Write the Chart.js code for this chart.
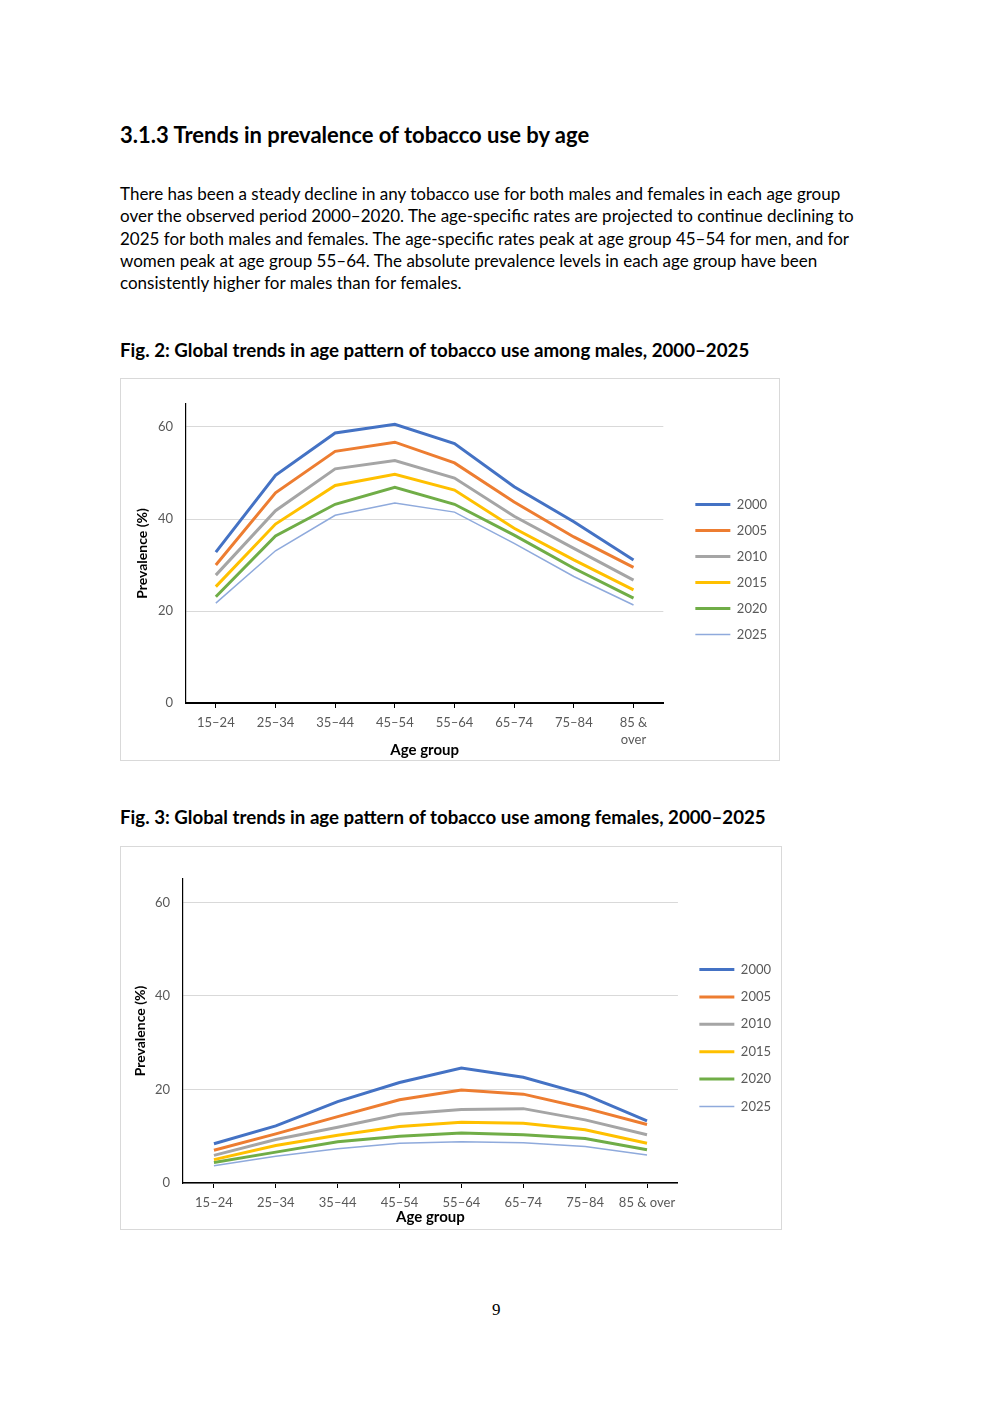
<!DOCTYPE html>
<html>
<head>
<meta charset="utf-8">
<script src="https://cdn.jsdelivr.net/npm/chart.js@4.4.1/dist/chart.umd.min.js"></script>
<style>
    body { margin: 0; background: #fff; }
    .page { position: relative; width: 992px; height: 1403px; background: #fff; font-family: Lato, sans-serif; color: #000; }
    .heading { position: absolute; left: 120px; top: 122px; font-size: 22px; line-height: 26px; font-weight: bold; white-space: nowrap; }
    .para { position: absolute; left: 120px; top: 183px; font-size: 17px; line-height: 22.3px; }
    .para div { white-space: nowrap; }
    .caption { position: absolute; left: 120px; font-size: 18.7px; line-height: 22px; font-weight: bold; white-space: nowrap; }
    .box { position: absolute; border: 1px solid #d9d9d9; background: #fff; }
    .pagenum { position: absolute; left: 492px; top: 1300px; font-family: "Liberation Serif", serif; font-size: 17px; }
</style>
</head>
<body>
<div class="page">
    <div class="heading">3.1.3 Trends in prevalence of tobacco use by age</div>
    <div class="para">
        <div>There has been a steady decline in any tobacco use for both males and females in each age group</div>
        <div>over the observed period 2000–2020. The age-specific rates are projected to continue declining to</div>
        <div>2025 for both males and females. The age-specific rates peak at age group 45–54 for men, and for</div>
        <div>women peak at age group 55–64. The absolute prevalence levels in each age group have been</div>
        <div>consistently higher for males than for females.</div>
    </div>

    <div class="caption" style="top: 339px">Fig. 2: Global trends in age pattern of tobacco use among males, 2000–2025</div>
    <div class="box" style="left: 120px; top: 378px; width: 658px; height: 381px">
        <canvas id="chart-males"></canvas>
    </div>

    <div class="caption" style="top: 806px">Fig. 3: Global trends in age pattern of tobacco use among females, 2000–2025</div>
    <div class="box" style="left: 120px; top: 846px; width: 660px; height: 382px">
        <canvas id="chart-females"></canvas>
    </div>

    <div class="pagenum">9</div>
</div>

<script>
const ageGroups = ["15–24", "25–34", "35–44", "45–54", "55–64", "65–74", "75–84", "85 & over"];
const years = ["2000", "2005", "2010", "2015", "2020", "2025"];
const yTicks = [0, 20, 40, 60];

// males, prevalence (%)
const male2000 = [32.8, 49.5, 58.7, 60.6, 56.4, 47.0, 39.4, 31.1];
const male2005 = [30.0, 45.7, 54.7, 56.7, 52.2, 43.7, 36.1, 29.5];
const male2010 = [27.8, 41.8, 50.9, 52.7, 48.9, 40.6, 33.6, 26.7];
const male2015 = [25.3, 38.9, 47.3, 49.7, 46.3, 38.0, 31.1, 24.6];
const male2020 = [23.1, 36.3, 43.2, 46.9, 43.2, 36.5, 29.3, 22.8];
const male2025 = [21.7, 33.1, 40.8, 43.5, 41.5, 34.7, 27.5, 21.3];

// females, prevalence (%)
const female2000 = [8.4, 12.2, 17.4, 21.5, 24.6, 22.6, 18.9, 13.3];
const female2005 = [7.0, 10.5, 14.2, 17.8, 19.9, 19.0, 16.0, 12.5];
const female2010 = [5.9, 9.3, 11.9, 14.7, 15.7, 15.9, 13.5, 10.3];
const female2015 = [5.0, 8.0, 10.2, 12.1, 13.0, 12.8, 11.4, 8.5];
const female2020 = [4.4, 6.6, 8.8, 10.0, 10.7, 10.3, 9.5, 7.1];
const female2025 = [3.7, 5.7, 7.3, 8.5, 8.8, 8.6, 7.8, 6.0];

const colors = ["#4472c4", "#ed7d31", "#a5a5a5", "#ffc000", "#70ad47", "#8faadc"];
const widths = [3, 3, 3, 3, 3, 1.5];

function makeDatasets(series) {
    return series.map((data, i) => ({
        label: years[i],
        data: data,
        borderColor: colors[i],
        backgroundColor: colors[i],
        borderWidth: widths[i],
        pointRadius: 0,
        pointHoverRadius: 0,
        tension: 0,
        fill: false,
    }));
}

function renderChart(id, series, opt) {
    new Chart(document.getElementById(id), {
        type: "line",
        data: { labels: ageGroups, datasets: makeDatasets(series) },
        options: {
            responsive: true,
            maintainAspectRatio: false,
            animation: false,
            layout: { padding: { left: opt.padLeft, right: opt.padRight, top: 0, bottom: 0 } },
            plugins: {
                legend: {
                    position: "right",
                    labels: {
                        usePointStyle: true,
                        pointStyle: "line",
                        pointStyleWidth: 35,
                        padding: opt.legendGap,
                        color: "#595959",
                        font: { family: "Lato", size: 13 },
                    },
                },
                tooltip: { enabled: false },
            },
            scales: {
                x: {
                    offset: true,
                    grid: { drawOnChartArea: false, drawTicks: true, tickLength: 5, color: "#000" },
                    border: { display: true, color: "#000", width: opt.xBorder },
                    ticks: {
                        color: "#595959",
                        padding: 6,
                        autoSkip: false,
                        maxRotation: 0,
                        font: { family: "Lato", size: 13, lineHeight: 1.3 },
                        callback: function (value) {
                            const label = this.getLabelForValue(value);
                            return opt.wrapLast && label === "85 & over" ? ["85 &", "over"] : label;
                        },
                    },
                    title: {
                        display: true,
                        text: "Age group",
                        color: "#000",
                        font: { family: "Lato", size: 15, weight: "bold" },
                        padding: { top: 0, bottom: opt.xTitlePad },
                    },
                    afterFit: (scale) => { scale.height = opt.xHeight; },
                },
                y: {
                    min: 0,
                    max: 65,
                    afterBuildTicks: (axis) => { axis.ticks = yTicks.map((v) => ({ value: v })); },
                    grid: { color: "#d9d9d9", drawTicks: false },
                    border: { display: true, color: "#000", width: 1.2 },
                    ticks: { color: "#595959", padding: 13, font: { family: "Lato", size: 13 } },
                    title: {
                        display: true,
                        text: "Prevalence (%)",
                        color: "#000",
                        font: { family: "Lato", size: 14, weight: "bold" },
                        padding: { top: 3, bottom: 4 },
                    },
                    afterFit: (scale) => { scale.width = opt.yWidth; },
                },
                topSpace: {
                    type: "linear",
                    position: "top",
                    grid: { display: false },
                    ticks: { display: false },
                    border: { display: false },
                    afterFit: (scale) => { scale.height = opt.topSpace; },
                },
                rightSpace: {
                    type: "linear",
                    position: "right",
                    grid: { display: false },
                    ticks: { display: false },
                    border: { display: false },
                    afterFit: (scale) => { scale.width = opt.rightSpace; },
                },
            },
        },
    });
}

renderChart("chart-males",
    [male2000, male2005, male2010, male2015, male2020, male2025],
    { padLeft: 10, padRight: 2, yWidth: 55, xHeight: 57, topSpace: 25, rightSpace: 19,
      legendGap: 13, xBorder: 2, xTitlePad: 1, wrapLast: true });

renderChart("chart-females",
    [female2000, female2005, female2010, female2015, female2020, female2025],
    { padLeft: 8, padRight: 0, yWidth: 54, xHeight: 46, topSpace: 32, rightSpace: 7,
      legendGap: 14.4, xBorder: 1.5, xTitlePad: 3, wrapLast: false });
</script>
</body>
</html>
